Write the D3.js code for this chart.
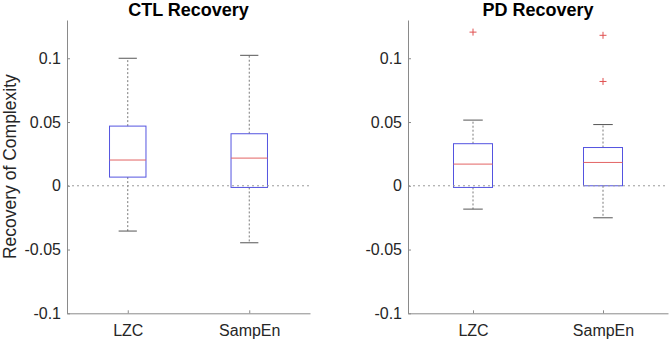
<!DOCTYPE html>
<html>
<head>
<meta charset="utf-8">
<script src="https://cdn.jsdelivr.net/npm/d3@7"></script>
<style>
  body { margin: 0; background: #fff; }
  svg { display: block; font-family: "Liberation Sans", Arial, sans-serif; }
</style>
</head>
<body>
<div id="wrapper"></div>
<script>
// 1. data
const groups = ["LZC", "SampEn"]
const yTicks = [-0.1, -0.05, 0, 0.05, 0.1]
const yTickLabels = ["-0.1", "-0.05", "0", "0.05", "0.1"]

const ctlLow = [-0.0355, -0.0447]
const ctlQ1 = [0.0068, -0.0013]
const ctlMedian = [0.0202, 0.0217]
const ctlQ3 = [0.0468, 0.0408]
const ctlHigh = [0.1, 0.1023]
const ctlOutliers = [[], []]

const pdLow = [-0.0183, -0.0251]
const pdQ1 = [-0.0013, 0.0]
const pdMedian = [0.017, 0.0183]
const pdQ3 = [0.033, 0.030]
const pdHigh = [0.0515, 0.048]
const pdOutliers = [[0.1205], [0.118, 0.0818]]

const buildBoxes = (low, q1, med, q3, high, outliers) =>
  groups.map((g, i) => ({
    group: g, low: low[i], q1: q1[i], median: med[i], q3: q3[i], high: high[i], outliers: outliers[i],
  }))

const panels = [
  { title: "CTL Recovery", left: 67, right: 310, yLabel: "Recovery of Complexity",
    boxes: buildBoxes(ctlLow, ctlQ1, ctlMedian, ctlQ3, ctlHigh, ctlOutliers) },
  { title: "PD Recovery", left: 408, right: 668, yLabel: null,
    boxes: buildBoxes(pdLow, pdQ1, pdMedian, pdQ3, pdHigh, pdOutliers) },
]

// 2. dimensions
const dimensions = { width: 669, height: 341, top: 20, bottom: 313.3 }

// 3. canvas
const wrapper = d3.select("#wrapper")
  .append("svg")
    .attr("width", dimensions.width)
    .attr("height", dimensions.height)

// 4. scales (shared y)
const yScale = d3.scaleLinear()
  .domain([-0.1, 0.13])
  .range([dimensions.bottom, dimensions.top])

const axisColor = "#8a8a8a"
const textColor = "#262626"

panels.forEach(panel => {
  const xScale = d3.scaleLinear()
    .domain([0.5, 2.5])
    .range([panel.left, panel.right])
  const xPos = (d, i) => xScale(i + 1)
  const unit = xScale(1) - xScale(0)
  const boxW = 0.3 * unit
  const capW = 0.15 * unit

  const g = wrapper.append("g")

  // 5. draw boxes
  const box = g.selectAll(".box")
    .data(panel.boxes)
    .join("g")
      .attr("class", "box")

  // whiskers
  box.append("line")
      .attr("x1", xPos).attr("x2", xPos)
      .attr("y1", d => yScale(d.q3)).attr("y2", d => yScale(d.high))
      .attr("stroke", "#7a7a7a").attr("stroke-dasharray", "2,2")
  box.append("line")
      .attr("x1", xPos).attr("x2", xPos)
      .attr("y1", d => yScale(d.q1)).attr("y2", d => yScale(d.low))
      .attr("stroke", "#7a7a7a").attr("stroke-dasharray", "2,2")

  // caps
  box.selectAll(".cap")
    .data((d, i) => [d.high, d.low].map(v => ({ v, i })))
    .join("line")
      .attr("class", "cap")
      .attr("x1", d => xScale(d.i + 1) - capW / 2)
      .attr("x2", d => xScale(d.i + 1) + capW / 2)
      .attr("y1", d => yScale(d.v)).attr("y2", d => yScale(d.v))
      .attr("stroke", "#555")

  // box
  box.append("rect")
      .attr("x", (d, i) => xPos(d, i) - boxW / 2)
      .attr("width", boxW)
      .attr("y", d => yScale(d.q3))
      .attr("height", d => yScale(d.q1) - yScale(d.q3))
      .attr("fill", "none")
      .attr("stroke", "#5454e0")

  // median
  box.append("line")
      .attr("x1", (d, i) => xPos(d, i) - boxW / 2)
      .attr("x2", (d, i) => xPos(d, i) + boxW / 2)
      .attr("y1", d => yScale(d.median)).attr("y2", d => yScale(d.median))
      .attr("stroke", "#e36464")

  // outliers, drawn as "+"
  box.selectAll(".outlier")
    .data((d, i) => d.outliers.map(v => ({ v, i })))
    .join("path")
      .attr("class", "outlier")
      .attr("d", "M-3.5,0H3.5M0,-3.5V3.5")
      .attr("transform", d => `translate(${xScale(d.i + 1)},${yScale(d.v)})`)
      .attr("stroke", "#e05050")
      .attr("fill", "none")

  // zero reference line
  g.append("line")
      .attr("x1", panel.left).attr("x2", panel.right)
      .attr("y1", yScale(0)).attr("y2", yScale(0))
      .attr("stroke", "#9a9a9a")
      .attr("stroke-dasharray", "2,3")

  // 6. peripherals
  const yAxisGenerator = d3.axisLeft(yScale)
    .tickValues(yTicks)
    .tickFormat((d, i) => yTickLabels[i])
    .tickSizeInner(-3)
    .tickSizeOuter(0)
    .tickPadding(6)

  const yAxis = g.append("g")
      .attr("transform", `translate(${panel.left},0)`)
      .call(yAxisGenerator)
  yAxis.select(".domain").attr("stroke", axisColor)
  yAxis.selectAll(".tick line").attr("stroke", axisColor)
  yAxis.selectAll(".tick text")
      .attr("fill", textColor)
      .style("font-size", "16px")

  const xAxisGenerator = d3.axisBottom(xScale)
    .tickValues([1, 2])
    .tickFormat((d, i) => groups[i])
    .tickSizeInner(-3)
    .tickSizeOuter(0)
    .tickPadding(11)

  const xAxis = g.append("g")
      .attr("transform", `translate(0,${dimensions.bottom})`)
      .call(xAxisGenerator)
  xAxis.select(".domain").attr("stroke", axisColor)
  xAxis.selectAll(".tick line").attr("stroke", axisColor)
  xAxis.selectAll(".tick text")
      .attr("fill", textColor)
      .style("font-size", "16px")

  g.append("text")
      .attr("x", (panel.left + panel.right) / 2)
      .attr("y", 15.5)
      .attr("text-anchor", "middle")
      .attr("font-weight", "bold")
      .attr("font-size", 18)
      .attr("fill", "#000")
      .text(panel.title)

  if (panel.yLabel) {
    g.append("text")
        .attr("transform", `translate(16,${(dimensions.top + dimensions.bottom) / 2}) rotate(-90)`)
        .attr("text-anchor", "middle")
        .attr("font-size", 17.5)
        .attr("fill", textColor)
        .text(panel.yLabel)
  }
})
</script>
</body>
</html>
